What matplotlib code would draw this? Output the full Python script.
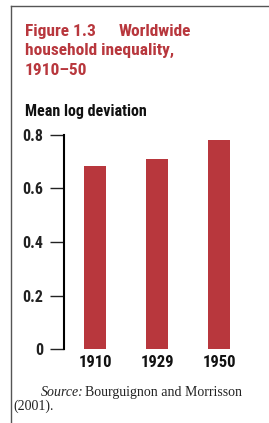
import matplotlib
matplotlib.use("Agg")
import matplotlib.pyplot as plt

years = ["1910", "1929", "1950"]
values = [0.685, 0.71, 0.78]
yticks = [0, 0.2, 0.4, 0.6, 0.8]
ytick_labels = ["0", "0.2", "0.4", "0.6", "0.8"]

W, H = 269, 423
fig = plt.figure(figsize=(W / 100, H / 100), dpi=100)
fig.patch.set_facecolor("white")

def fx(px):
    return px / W

def fy(py):
    return 1 - py / H

fig.add_artist(plt.Line2D([fx(11), 1.0], [fy(6), fy(6)], color="#555555", lw=1.0))
fig.add_artist(plt.Line2D([fx(11), fx(11)], [fy(6), 0.0], color="#555555", lw=1.0))

red = "#B8373D"
sans = ["Roboto Condensed", "DejaVu Sans"]
kw = dict(color=red, fontsize=12.5, fontweight=800, family=sans,
          fontstretch="condensed", va="baseline", ha="left")
fig.text(fx(25), fy(36), "Figure 1.3", **kw)
fig.text(fx(119), fy(36), "Worldwide", **kw)
fig.text(fx(25), fy(55), "household inequality,", **kw)
fig.text(fx(25), fy(75), "1910\u201350", **kw)
fig.text(fx(25), fy(116), "Mean log deviation", color="#111111", fontsize=11.5,
         fontweight=800, family=sans, fontstretch="condensed",
         va="baseline", ha="left")

ax = fig.add_axes([fx(64), fy(349), fx(250) - fx(64), fy(135) - fy(349)])
x = list(range(len(years)))
ax.bar(x, values, width=0.37, color=red)
ax.set_xlim(-0.5, 2.5)
ax.set_ylim(0, 0.8)
ax.set_yticks(yticks)
ax.set_yticklabels(ytick_labels, fontsize=11.5, fontweight=800, family=sans,
                   fontstretch="condensed")
ax.set_xticks(x)
ax.set_xticklabels(years, fontsize=12, fontweight=800, family=sans,
                   fontstretch="condensed")
for s in ["top", "right", "bottom"]:
    ax.spines[s].set_visible(False)
ax.spines["left"].set_linewidth(1.5)
ax.tick_params(axis="y", length=10, width=1.0, pad=5, colors="#222222")
ax.tick_params(axis="x", length=0, pad=4, colors="#111111")
ax.patch.set_alpha(0)

serif = ["Liberation Serif", "DejaVu Serif"]
fig.text(fx(41), fy(392), "Source:", fontsize=10, style="italic", family=serif,
         va="center", ha="left", color="#222222")
fig.text(fx(85), fy(392), "Bourguignon and Morrisson", fontsize=10, family=serif,
         va="center", ha="left", color="#222222")
fig.text(fx(13), fy(406), "(2001).", fontsize=10, family=serif,
         va="center", ha="left", color="#222222")

fig.savefig("out.png", dpi=100, facecolor="white")
